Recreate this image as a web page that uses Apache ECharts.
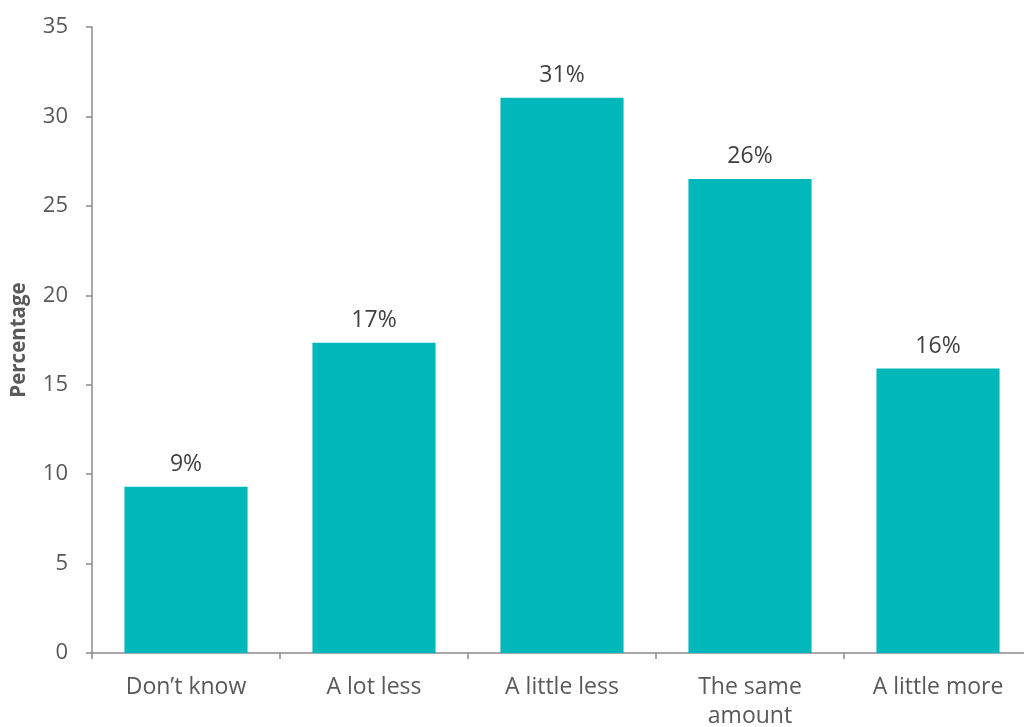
<!DOCTYPE html>
<html>
<head>
<meta charset="utf-8">
<script src="https://cdn.jsdelivr.net/npm/echarts@6/dist/echarts.min.js"></script>
<style>html,body{margin:0;padding:0;background:#fff}#c{width:1024px;height:727px}</style>
</head>
<body>
<div id="c"></div>
<script>
var categories = ["Don\u2019t know", "A lot less", "A little less", "The same\namount", "A little more"];
var values = [9.3, 17.35, 31.05, 26.5, 15.9];
var labels = ["9%", "17%", "31%", "26%", "16%"];
var yTicks = {min: 0, max: 35, interval: 5};

var chart = echarts.init(document.getElementById('c'));
var font = '"Open Sans", "Noto Sans", sans-serif';
chart.setOption({
  animation: false,
  grid: {left: 92, right: -8, top: 27, bottom: 74, containLabel: false, outerBoundsMode: 'none'},
  xAxis: {
    type: 'category',
    data: categories,
    axisLine: {lineStyle: {color: '#8c8c8c', width: 1.5}},
    axisTick: {show: true, length: 6, lineStyle: {color: '#8c8c8c', width: 1.5}},
    axisLabel: {color: '#595959', fontFamily: font, fontSize: 23, margin: 20, lineHeight: 29, interval: 0}
  },
  yAxis: {
    type: 'value',
    min: yTicks.min, max: yTicks.max, interval: yTicks.interval,
    name: 'Percentage',
    nameLocation: 'middle',
    nameGap: 62,
    nameTextStyle: {color: '#595959', fontFamily: font, fontSize: 20.5, fontWeight: 'bold', padding: [0, 0, 0, 0]},
    axisLine: {show: true, lineStyle: {color: '#8c8c8c', width: 1.5}},
    axisTick: {show: true, length: 6, lineStyle: {color: '#8c8c8c', width: 1.5}},
    axisLabel: {color: '#595959', fontFamily: font, fontSize: 22, margin: 24},
    splitLine: {show: false}
  },
  series: [{
    type: 'bar',
    data: values,
    barWidth: '65.5%',
    itemStyle: {color: '#00B8B9'},
    label: {
      show: true, position: 'top', distance: 11,
      color: '#404040', fontFamily: font, fontSize: 23,
      formatter: function (p) { return labels[p.dataIndex]; }
    }
  }]
});
</script>
</body>
</html>
